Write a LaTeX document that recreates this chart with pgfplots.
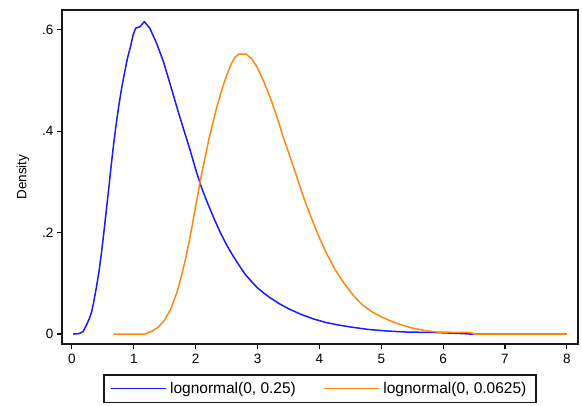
\documentclass[border=0pt]{standalone}
\usepackage{pgfplots}
\pgfplotsset{compat=1.18}
\usepackage{fontspec}
\setmainfont{Liberation Sans}
\definecolor{sblue}{RGB}{26,26,255}
\definecolor{sorange}{RGB}{255,136,17}
\begin{document}
\begin{tikzpicture}
\begin{axis}[
  scale only axis, width=516pt, height=334pt,
  xmin=-0.16, xmax=8.18, ymin=-0.0196, ymax=0.639,
  axis line style={line width=1.8pt, black!90},
  xtick={0,1,2,3,4,5,6,7,8},
  ytick={0,0.2,0.4,0.6}, yticklabels={0,.2,.4,.6},
  xtick pos=bottom, ytick pos=left,
  tick align=outside, major tick length=5pt,
  tick style={line width=1.2pt, black},
  /pgf/number format/assume math mode=true,
  every tick label/.append style={font=\fontsize{13.5}{15}\selectfont},
  xticklabel style={yshift=-2pt},
  ylabel={Density},
  ylabel style={font=\fontsize{13.5}{15}\selectfont, at={(axis description cs:-0.0756,0.5)}, anchor=center},
  legend columns=2,
  legend cell align=left,
  legend style={at={(axis description cs:0.5,0)}, anchor=north, yshift=-30pt,
    draw=black!90, line width=1.5pt, font=\fontsize{15.5}{17}\selectfont,
    inner xsep=6pt, inner ysep=5.5pt,
    nodes={inner xsep=3.5pt, inner ysep=2pt},
    /tikz/every even column/.append style={column sep=24pt}},
  legend image code/.code={\draw[#1, line width=1.5pt] (0pt,0pt) -- (55pt,0pt);},
]
\addplot[sblue, line width=1.5pt] coordinates {
(0.02,0) (0.12,0.001) (0.18,0.005) (0.24,0.019) (0.28,0.030) (0.32,0.044)
(0.36,0.068) (0.40,0.095) (0.44,0.125) (0.48,0.162) (0.52,0.204) (0.56,0.248)
(0.60,0.292) (0.64,0.338) (0.68,0.380) (0.72,0.418) (0.76,0.452) (0.80,0.482)
(0.85,0.515) (0.90,0.545) (0.95,0.568) (0.99,0.590) (1.03,0.603) (1.10,0.606)
(1.17,0.616) (1.26,0.603) (1.37,0.573) (1.48,0.537) (1.59,0.492) (1.70,0.446)
(1.80,0.406) (1.90,0.367) (2.00,0.325) (2.10,0.287) (2.20,0.256) (2.30,0.227)
(2.40,0.200) (2.50,0.176) (2.60,0.155) (2.70,0.136) (2.80,0.118) (2.90,0.104)
(3.00,0.091) (3.10,0.081) (3.20,0.072) (3.35,0.060) (3.50,0.050) (3.70,0.039)
(3.90,0.030) (4.10,0.023) (4.30,0.018) (4.50,0.014) (4.80,0.009) (5.10,0.006)
(5.40,0.004) (5.90,0.003) (6.30,0.001) (6.45,0) (8.0,0)
};
\addlegendentry{lognormal(0, 0.25)}
\addplot[sorange, line width=1.5pt] coordinates {
(0.67,0) (1.18,0) (1.22,0.002) (1.30,0.006) (1.40,0.014) (1.50,0.028)
(1.60,0.050) (1.70,0.083) (1.78,0.119) (1.84,0.150) (1.90,0.185) (1.95,0.218)
(2.00,0.252) (2.05,0.285) (2.10,0.318) (2.16,0.352) (2.21,0.382) (2.27,0.412)
(2.33,0.442) (2.39,0.468) (2.45,0.492) (2.52,0.516) (2.58,0.534) (2.64,0.546)
(2.70,0.552) (2.82,0.552) (2.91,0.542) (2.99,0.527) (3.10,0.498) (3.21,0.465)
(3.32,0.426) (3.42,0.387) (3.53,0.348) (3.64,0.308) (3.75,0.268) (3.88,0.226)
(4.00,0.190) (4.12,0.158) (4.25,0.128) (4.40,0.100) (4.55,0.076) (4.70,0.057)
(4.85,0.044) (5.00,0.034) (5.15,0.026) (5.30,0.019) (5.50,0.012) (5.70,0.007)
(5.90,0.004) (6.45,0.003) (6.50,0) (8.0,0)
};
\addlegendentry{lognormal(0, 0.0625)}
\end{axis}
\pgfresetboundingbox
\path ([shift={(-62pt,-61pt)}]current axis.south west) rectangle ([shift={(4pt,10pt)}]current axis.north east);
\end{tikzpicture}
\end{document}
